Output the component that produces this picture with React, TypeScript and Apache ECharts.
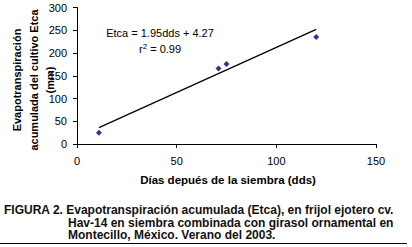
import React, { useEffect, useRef } from "react";
import * as echarts from "echarts";

const points: [number, number][] = [
  [11, 25],
  [71, 166],
  [75, 176],
  [120, 235],
];
const trendLine: [number, number][] = [
  [11, 36],
  [120, 252],
];
const xTicks = { min: 0, max: 150, interval: 50 };
const yTicks = { min: 0, max: 300, interval: 50 };
const equationText = "Etca = 1.95dds + 4.27";
const r2Value = "0.99";
const xAxisTitle = "Días depués de la siembra (dds)";
const yAxisTitleLines = ["Evapotranspiración", "acumulada del cultivo Etca", "(mm)"];
const captionLines = [
  "FIGURA 2. Evapotranspiración acumulada (Etca), en frijol ejotero cv.",
  "Hav-14 en siembra combinada con girasol ornamental en",
  "Montecillo, México. Verano del 2003.",
];

const FONT = "'Liberation Sans', Arial, Helvetica, sans-serif";

export default function App() {
  const ref = useRef<HTMLDivElement>(null);
  useEffect(() => {
    if (!ref.current) return;
    const chart = echarts.init(ref.current, undefined, { renderer: "svg" });
    const axisCommon = {
      axisLine: { show: true, lineStyle: { color: "#000", width: 1 } },
      axisTick: { show: true, inside: false, length: 4, lineStyle: { color: "#000" } },
      splitLine: { show: false },
      axisLabel: { color: "#000", fontSize: 11, fontFamily: FONT },
    };
    const captionStyle = {
      fontSize: 12,
      fontWeight: "bold",
      fontFamily: FONT,
      fill: "#111",
      align: "left",
      verticalAlign: "top",
      lineHeight: 12.5,
    };
    chart.setOption({
      animation: false,
      backgroundColor: "#fff",
      grid: { left: 77, top: 7.5, width: 299, height: 136.5, containLabel: false },
      xAxis: {
        type: "value",
        ...xTicks,
        ...axisCommon,
        axisLabel: { ...axisCommon.axisLabel, margin: 11 },
      },
      yAxis: {
        type: "value",
        ...yTicks,
        ...axisCommon,
        axisLabel: { ...axisCommon.axisLabel, margin: 10 },
      },
      series: [
        {
          type: "line",
          data: trendLine,
          symbol: "none",
          lineStyle: { color: "#000", width: 1.3 },
          z: 2,
        },
        {
          type: "scatter",
          data: points,
          symbol: "diamond",
          symbolSize: 6,
          itemStyle: { color: "#000080" },
          z: 3,
        },
      ],
      graphic: [
        {
          type: "text",
          x: 160,
          y: 33,
          style: {
            text: equationText,
            fontSize: 11,
            fontFamily: FONT,
            fill: "#000",
            align: "center",
            verticalAlign: "middle",
          },
        },
        {
          type: "text",
          x: 160,
          y: 49,
          style: {
            text: "r{sup|2} = " + r2Value,
            rich: { sup: { fontSize: 8, verticalAlign: "top", padding: [0, 0, 6, 0] } },
            fontSize: 11,
            fontFamily: FONT,
            fill: "#000",
            align: "center",
            verticalAlign: "middle",
          },
        },
        {
          type: "text",
          x: 228,
          y: 180,
          style: {
            text: xAxisTitle,
            fontSize: 11.5,
            fontWeight: "bold",
            fontFamily: FONT,
            fill: "#000",
            align: "center",
            verticalAlign: "middle",
          },
        },
        {
          type: "text",
          x: 33.5,
          y: 80,
          rotation: Math.PI / 2,
          style: {
            text: yAxisTitleLines.join("\n"),
            fontSize: 11,
            fontWeight: "bold",
            fontFamily: FONT,
            fill: "#000",
            align: "center",
            verticalAlign: "middle",
            lineHeight: 16.5,
          },
        },
        {
          type: "text",
          x: 4,
          y: 203.75,
          style: { ...captionStyle, text: captionLines[0] },
        },
        {
          type: "text",
          x: 68,
          y: 216.25,
          style: { ...captionStyle, text: captionLines[1] },
        },
        {
          type: "text",
          x: 68,
          y: 228.75,
          style: { ...captionStyle, text: captionLines[2] },
        },
        {
          type: "line",
          shape: { x1: 0, y1: 243.5, x2: 407, y2: 243.5 },
          style: { stroke: "#000", lineWidth: 1 },
        },
      ],
    });
    return () => chart.dispose();
  }, []);
  return (
    <div
      ref={ref}
      style={{ position: "fixed", left: 0, top: 0, width: 412, height: 247, background: "#fff" }}
    />
  );
}
